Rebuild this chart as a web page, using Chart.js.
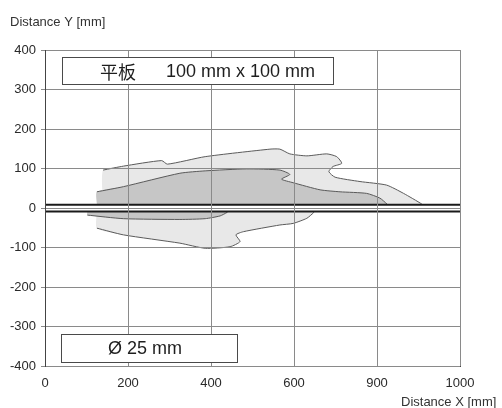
<!DOCTYPE html>
<html>
<head>
<meta charset="utf-8">
<script src="https://cdn.jsdelivr.net/npm/chart.js@4.4.1/dist/chart.umd.min.js"></script>
<style>
    html, body { margin: 0; padding: 0; background: #fff; }
    #wrap { width: 502px; height: 408px; position: relative; }
</style>
</head>
<body>
<div id="wrap"><canvas id="detectChart"></canvas></div>
<script>
// tick labels as printed on the sheet (the 800 line is labelled 900)
const xTickValues = [0, 200, 400, 600, 800, 1000];
const xTickLabels = ['0', '200', '400', '600', '900', '1000'];
const yTickValues = [-400, -300, -200, -100, 0, 100, 200, 300, 400];

// outer (light) zone, above the beam
const outerTopX = [140, 140, 189, 281, 295, 386, 542, 566, 590, 631, 679, 703, 715, 694, 684, 699, 759, 823, 864, 908, 908];
const outerTopY = [8, 96, 106, 120, 111, 130, 149, 149, 137, 132, 137, 130, 113, 105, 92, 78, 67, 58, 37, 10, 8];

// outer (light) zone, below the beam
const outerBotX = [125, 125, 189, 325, 386, 446, 470, 460, 478, 566, 598, 631, 647, 648];
const outerBotY = [-9, -51, -68, -89, -102, -98, -85, -68, -60, -43, -39, -26, -12, -9];

// inner (dark) zone, above the beam
const innerTopX = [125, 125, 189, 325, 386, 486, 566, 590, 570, 598, 663, 711, 775, 807, 824, 824];
const innerTopY = [8, 41, 54, 88, 94, 99, 96, 85, 73, 64, 46, 41, 37, 25, 10, 8];

// inner (dark) zone, below the beam
const innerBotX = [102, 102, 189, 325, 386, 422, 439, 441];
const innerBotY = [-9, -18, -27, -29, -27, -20, -11, -9];

// the two beam lines
const beamX = [0, 1000];
const beamUpperY = 8;
const beamLowerY = -9;

const zip = (xs, ys) => xs.map((x, i) => ({ x: x, y: ys[i] }));

// filled area without stroke
function zoneFill(data, fillColor, order) {
    return {
        data: data,
        fill: 'shape',
        backgroundColor: fillColor,
        borderColor: 'rgba(0,0,0,0)',
        borderWidth: 0,
        pointRadius: 0,
        tension: 0.2,
        order: order
    };
}

// outline of the same area, left edge left open
function zoneEdge(data, order) {
    return {
        data: data.slice(1),
        fill: false,
        borderColor: '#5a5a5a',
        borderWidth: 1,
        pointRadius: 0,
        tension: 0.2,
        order: order
    };
}

function beam(y) {
    return {
        data: beamX.map(x => ({ x: x, y: y })),
        borderColor: '#1a1a1a',
        borderWidth: 2,
        pointRadius: 0,
        fill: false,
        order: 0
    };
}

const innerTop = zip(innerTopX, innerTopY);
const innerBot = zip(innerBotX, innerBotY);
const outerTop = zip(outerTopX, outerTopY);
const outerBot = zip(outerBotX, outerBotY);

const boxPlugin = {
    id: 'boxes',
    afterDraw(chart) {
        const c = chart.ctx;
        const xs = chart.scales.x, ys = chart.scales.y;
        const boxes = [
            { x0: 40, x1: 694, y0: 383, y1: 314, parts: [['平板', 100, true], ['100 mm x 100 mm', 166, false]] },
            { x0: 39, x1: 463, y0: -318, y1: -390, parts: [['Ø 25 mm', 108, false]] }
        ];
        c.save();
        boxes.forEach(b => {
            const l = Math.round(xs.getPixelForValue(b.x0)) + 0.5;
            const r = Math.round(xs.getPixelForValue(b.x1)) + 0.5;
            const t = Math.round(ys.getPixelForValue(b.y0)) + 0.5;
            const bt = Math.round(ys.getPixelForValue(b.y1)) + 0.5;
            c.fillStyle = '#fff';
            c.fillRect(l, t, r - l, bt - t);
            c.strokeStyle = '#4a4a4a';
            c.lineWidth = 1;
            c.strokeRect(l, t, r - l, bt - t);
            c.fillStyle = '#1e1e1e';
            c.textBaseline = 'middle';
            c.textAlign = 'left';
            b.parts.forEach(p => {
                c.font = p[2]
                    ? '18px "Noto Sans CJK SC", sans-serif'
                    : '18px "Liberation Sans", Arial, sans-serif';
                c.fillText(p[0], p[1], (t + bt) / 2 + 1);
            });
        });

        // axis titles
        c.font = '13px "Liberation Sans", Arial, sans-serif';
        c.fillStyle = '#333';
        c.textBaseline = 'middle';
        c.textAlign = 'left';
        c.fillText('Distance Y [mm]', 10, 22);
        c.fillText('Distance X [mm]', 401, 402);
        c.restore();
    }
};

const ctx = document.getElementById('detectChart').getContext('2d');
const detectChart = new Chart(ctx, {
    type: 'line',
    data: {
        datasets: [
            beam(beamUpperY),
            beam(beamLowerY),
            zoneEdge(innerTop, 1),
            zoneEdge(innerBot, 1),
            zoneFill(innerTop, '#c6c6c6', 2),
            zoneFill(innerBot, '#c6c6c6', 2),
            zoneEdge(outerTop, 3),
            zoneEdge(outerBot, 3),
            zoneFill(outerTop, '#e8e8e8', 4),
            zoneFill(outerBot, '#e8e8e8', 4)
        ]
    },
    options: {
        responsive: true,
        maintainAspectRatio: false,
        animation: false,
        layout: { padding: { left: 0, top: 50, right: 42, bottom: 0 } },
        plugins: {
            legend: { display: false },
            tooltip: { enabled: false }
        },
        scales: {
            x: {
                type: 'linear',
                min: 0,
                max: 1000,
                afterFit: s => { s.height = 42; },
                afterBuildTicks: s => { s.ticks = xTickValues.map(v => ({ value: v })); },
                grid: { color: '#8a8a8a', lineWidth: 1, tickLength: 0, z: 1 },
                border: { color: '#444', width: 1, z: 1 },
                ticks: {
                    padding: 10,
                    maxRotation: 0,
                    color: '#2a2a2a',
                    font: { family: '"Liberation Sans", Arial, sans-serif', size: 13 },
                    callback: (v) => xTickLabels[xTickValues.indexOf(v)]
                }
            },
            y: {
                type: 'linear',
                min: -400,
                max: 400,
                afterFit: s => { s.width = 45; },
                afterBuildTicks: s => { s.ticks = yTickValues.map(v => ({ value: v })); },
                grid: { color: '#8a8a8a', lineWidth: 1, tickLength: 4, z: 1 },
                border: { color: '#444', width: 1, z: 1 },
                ticks: {
                    padding: 5,
                    color: '#2a2a2a',
                    font: { family: '"Liberation Sans", Arial, sans-serif', size: 13 }
                }
            }
        }
    },
    plugins: [boxPlugin]
});
</script>
</body>
</html>
